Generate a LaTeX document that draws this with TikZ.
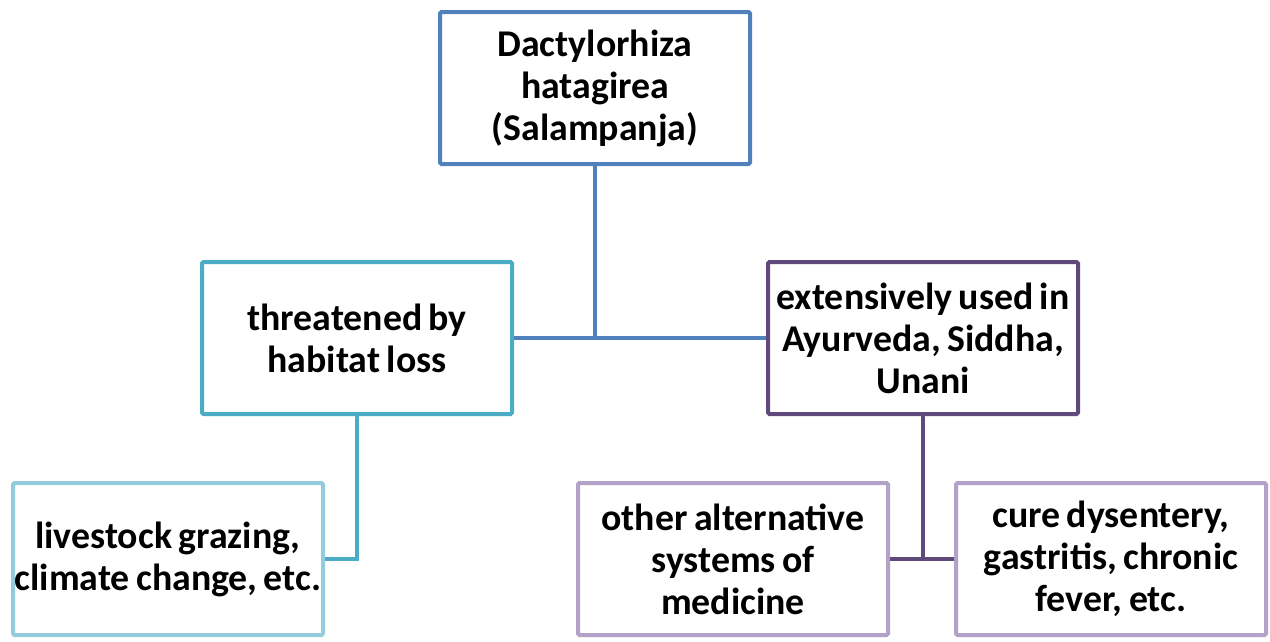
\documentclass[tikz,border=0pt]{standalone}
\usepackage{fontspec}
\setmainfont[WordSpace=0.75]{Carlito}
\definecolor{cTop}{HTML}{4F81BD}
\definecolor{cThr}{HTML}{4BACC6}
\definecolor{cLive}{HTML}{93CDDD}
\definecolor{cExt}{HTML}{604A7B}
\definecolor{cSub}{HTML}{B3A2C7}
\tikzset{
  box/.style={draw, line width=4pt, fill=white, rounded corners=1.5pt,
    minimum width=310pt, minimum height=152pt, inner sep=0pt,
    align=center,
    font=\fontsize{37.8}{42}\selectfont\bfseries},
  conn/.style={line width=4pt}
}
\begin{document}
\begin{tikzpicture}[x=1pt,y=-1pt]
\useasboundingbox (0,0) rectangle (1270,641);
\node[box, draw=cTop] (top) at (595,88) {Dactylorhiza\\hatagirea\\(Salampanja)};
\node[box, draw=cThr] (thr) at (357,338) {threatened by\\habitat loss};
\node[box, draw=cExt] (ext) at (923,338) {extensively used in\\Ayurveda, Siddha,\\Unani};
\node[box, draw=cLive] (live) at (168,559) {livestock grazing,\\climate change, etc.};
\node[box, draw=cSub] (oth) at (733,559) {other alternative\\systems of\\medicine};
\node[box, draw=cSub] (cure) at (1111,559) {cure dysentery,\\gastritis, chronic\\fever, etc.};
\draw[conn, cTop] (top.south) -- (top.south |- thr.east);
\draw[conn, cTop] (thr.east) -- (ext.west);
\draw[conn, cThr] (thr.south) |- (live.east);
\draw[conn, cExt] (ext.south) -- (ext.south |- oth.east);
\draw[conn, cExt] (oth.east) -- (cure.west);
\end{tikzpicture}
\end{document}
